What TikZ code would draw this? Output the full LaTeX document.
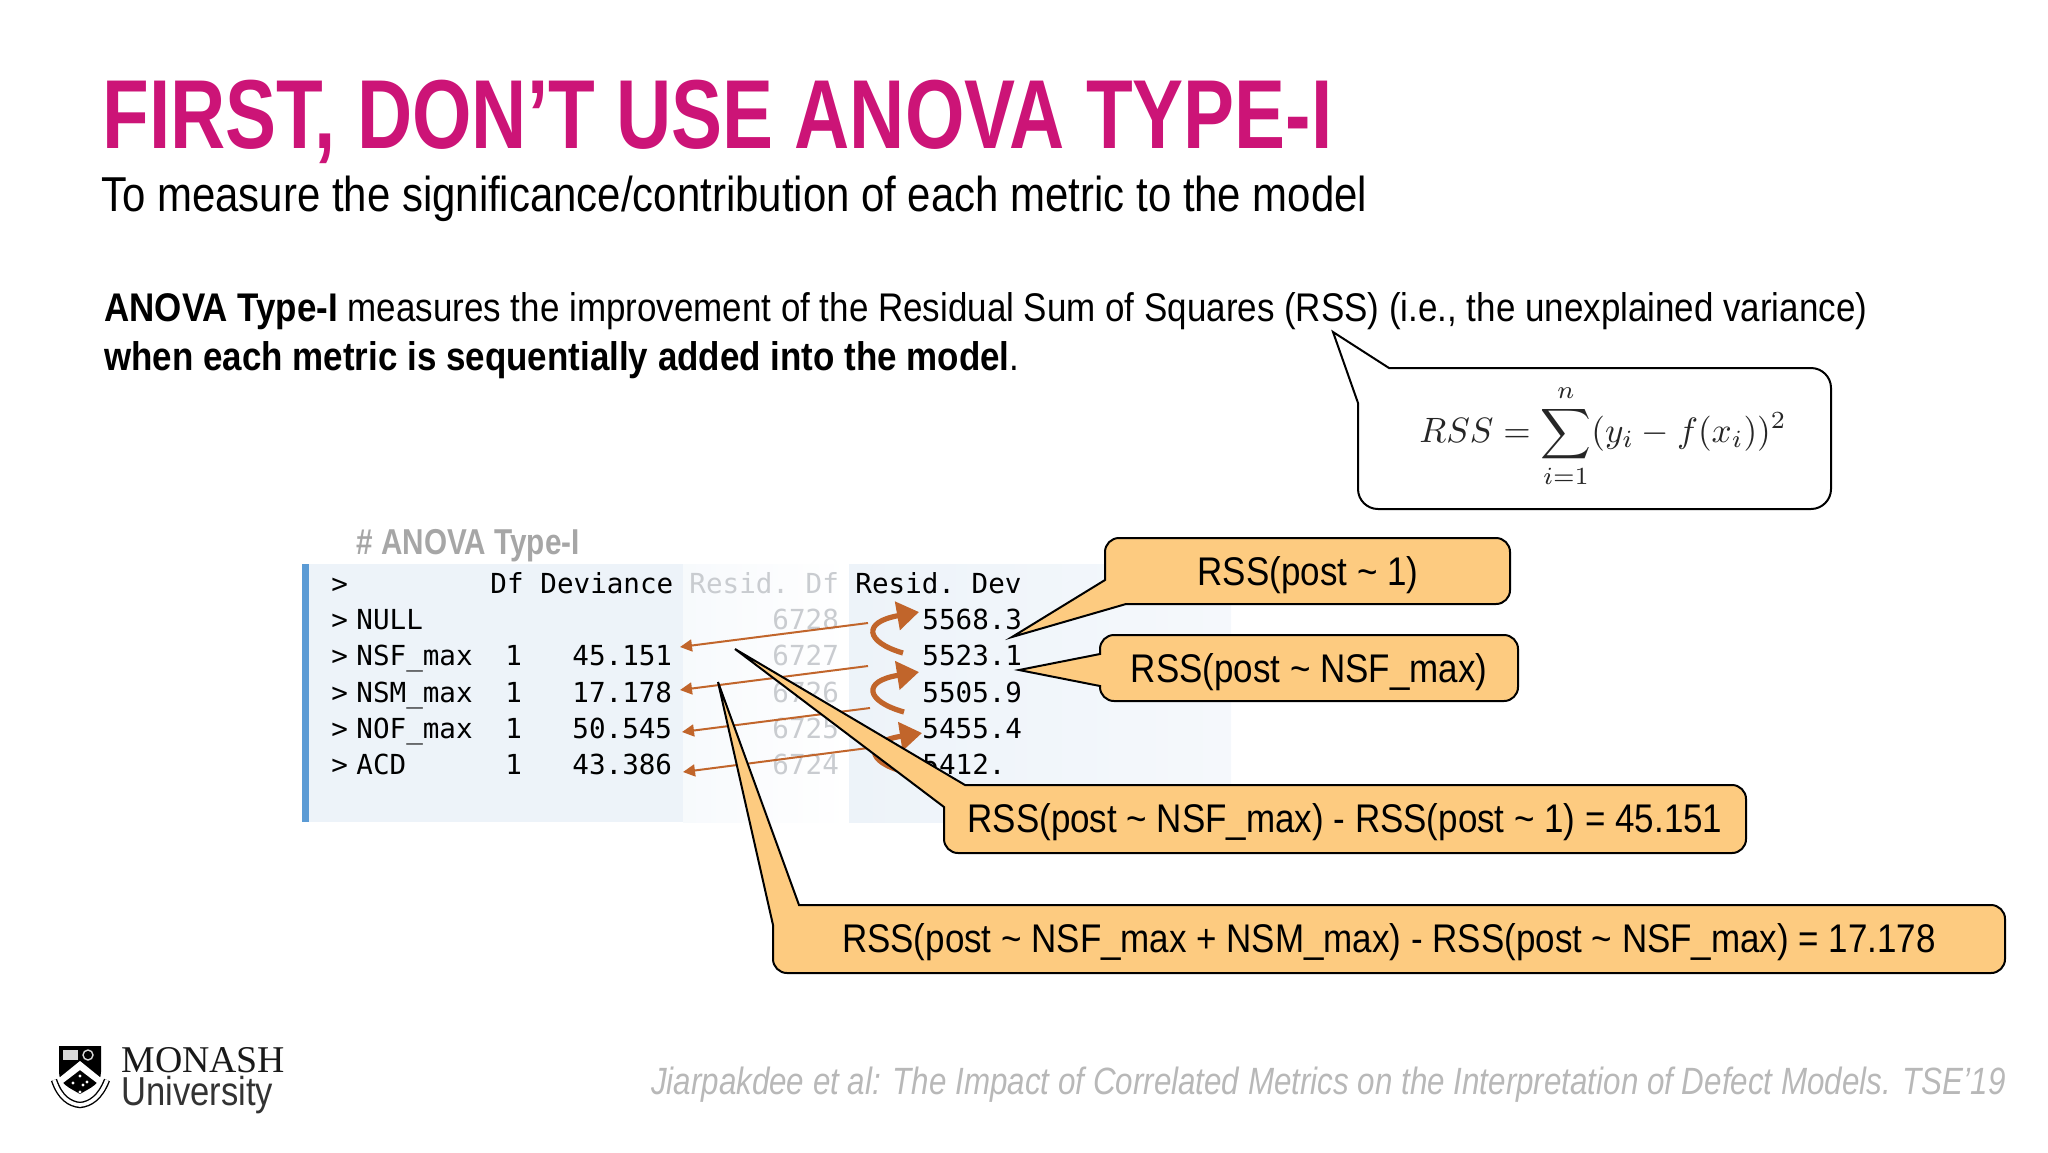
\documentclass[tikz,border=0pt]{standalone}
\usepackage{fontspec}
\usetikzlibrary{arrows.meta}
\setmainfont{Liberation Sans}
\setmonofont{DejaVu Sans Mono}
\newfontfamily\titlefont[FakeStretch=0.78]{Liberation Sans}
\newfontfamily\subfont[FakeStretch=0.856]{Liberation Sans}
\newfontfamily\bodyfont[FakeStretch=0.874]{Liberation Sans}
\newfontfamily\citefont[FakeStretch=0.825]{Liberation Sans}
\newfontfamily\logofont{Liberation Serif}
\definecolor{slidepink}{HTML}{CC1477}
\definecolor{calloutfill}{HTML}{FDCB80}
\definecolor{arrowrust}{HTML}{C1652B}
\definecolor{panelblue}{HTML}{EDF3F9}
\definecolor{barblue}{HTML}{5B9BD5}
\definecolor{fadedgrey}{HTML}{C9CCD0}
\tikzstyle{every node}=[inner sep=0pt, anchor=base west]
\tikzstyle{calloutbox}=[draw=black, fill=calloutfill, line width=1pt, line join=miter]
\tikzstyle{calloutlabel}=[font=\bodyfont\fontsize{20}{24}\selectfont, anchor=base]
\tikzstyle{rowtext}=[font=\ttfamily\fontsize{13.8}{16}\selectfont]
\tikzstyle{rowfaded}=[rowtext, text=fadedgrey]
\tikzstyle{linkarrow}=[arrowrust, line width=1pt, -{Triangle[length=6pt, width=6pt]}]
\tikzstyle{bendarrow}=[arrowrust, line width=2.6pt, -{Triangle[length=11pt, width=14pt]}]

\begin{document}
\begin{tikzpicture}[x=0.5pt, y=-0.5pt]
\useasboundingbox (0,0) rectangle (2048,1152);
% Headings
    \node[text=slidepink, font=\titlefont\bfseries\fontsize{49}{54}\selectfont] (title) at (102,148) {FIRST, DON’T USE ANOVA TYPE-I};
    \node[font=\subfont\fontsize{24.5}{28}\selectfont] (subtitle) at (101,211) {To measure the significance/contribution of each metric to the model};
    \node[font=\bodyfont\fontsize{20}{24}\selectfont] (bodyone) at (104,321) {\textbf{ANOVA Type-I} measures the improvement of the Residual Sum of Squares (RSS) (i.e., the unexplained variance)};
    \node[font=\bodyfont\fontsize{20}{24}\selectfont] (bodytwo) at (104,370) {\textbf{when each metric is sequentially added into the model}.};
% Table panels
    \fill[panelblue] (309,564) rectangle (683,822);
    \fill[left color=panelblue!45, right color=white] (683,564) rectangle (849,822);
    \fill[left color=panelblue, right color=panelblue!55] (849,564) rectangle (1231,822);
    \fill[barblue] (302,564) rectangle (309,822);
    \node[text=black!35, font=\citefont\bfseries\fontsize{18}{22}\selectfont] (tabletitle) at (356,554) {\# ANOVA Type-I};
% Table rows
    \node[rowtext] (promptzero) at (331,593) {>};
    \node[rowtext] (headdf) at (490,593) {Df};
    \node[rowtext] (headdev) at (540,593) {Deviance};
    \node[rowfaded] (headrdf) at (689,593) {Resid. Df};
    \node[rowtext] (headrdev) at (855,593) {Resid. Dev};
    \foreach \row/\ypos/\metric/\dfval/\devval/\rdfval/\rdevval in {
        1/629/NULL///6728/5568.3,
        2/665/NSF\_max/1/45.151/6727/5523.1,
        3/702/NSM\_max/1/17.178/6726/5505.9,
        4/738/NOF\_max/1/50.545/6725/5455.4,
        5/774/ACD/1/43.386/6724/5412.} {
        \node[rowtext] (prompt\row) at (331,\ypos) {>};
        \node[rowtext] (metric\row) at (356,\ypos) {\metric};
        \node[rowtext] (df\row) at (505,\ypos) {\dfval};
        \node[rowtext] (dev\row) at (572,\ypos) {\devval};
        \node[rowfaded] (rdf\row) at (772,\ypos) {\rdfval};
        \node[rowtext] (rdev\row) at (922,\ypos) {\rdevval};
    }
% Links from the differences to the Deviance column
    \coordinate (linkstart1) at (868,623);
    \coordinate (linkend1) at (680,647);
    \coordinate (linkstart2) at (868,666);
    \coordinate (linkend2) at (680,690);
    \coordinate (linkstart3) at (870,708);
    \coordinate (linkend3) at (682,732);
    \coordinate (linkstart4) at (868,748);
    \coordinate (linkend4) at (683,772);
    \foreach \n in {1,2,3,4}
        \draw[linkarrow] (linkstart\n) -- (linkend\n);
% Bent arrows between the residuals
    \draw[bendarrow] (903,653) .. controls (865,642) and (862,622) .. (919,612);
    \draw[bendarrow] (904,712) .. controls (865,701) and (862,681) .. (919,672);
    \draw[bendarrow] (905,772) .. controls (866,762) and (864,742) .. (922,733);
% Callouts
    \draw[calloutbox] (1105,580) [rounded corners=7pt] -- (1105,538) -- (1510,538) -- (1510,604) [sharp corners] -- (1126,604) -- (1012,637) -- cycle;
    \node[calloutlabel] (calloutone) at (1308,585) {RSS(post \char`\~{} 1)};
    \draw[calloutbox] (1100,654) [rounded corners=7pt] -- (1100,635) -- (1518,635) -- (1518,701) -- (1100,701) [sharp corners] -- (1100,686) -- (1019,670) -- cycle;
    \node[calloutlabel] (callouttwo) at (1309,682) {RSS(post \char`\~{} NSF\_max)};
    \draw[calloutbox] (965,785) [rounded corners=7pt] -- (1746,785) -- (1746,853) -- (944,853) [sharp corners] -- (944,807) -- (735,649) -- cycle;
    \node[calloutlabel] (calloutthree) at (1345,832) {RSS(post \char`\~{} NSF\_max) - RSS(post \char`\~{} 1) = 45.151};
    \draw[calloutbox] (799,905) [rounded corners=7pt] -- (2005,905) -- (2005,973) -- (773,973) [sharp corners] -- (773,925) -- (718,682) -- cycle;
    \node[calloutlabel] (calloutfour) at (1389,952) {RSS(post \char`\~{} NSF\_max + NSM\_max) - RSS(post \char`\~{} NSF\_max) = 17.178};
% Formula callout
    \draw[draw=black, fill=white, line width=1pt] (1389,368) [rounded corners=10pt] -- (1831,368) -- (1831,509) -- (1358,509) [sharp corners] -- (1358,403) -- (1333,332) -- cycle;
    \node[anchor=center, scale=1.76, text=black!85] (formula) at (1603,436) {$\displaystyle RSS = \sum_{i=1}^{n} (y_i - f(x_i))^2$};
% Logo
    \fill[black] (59,1046) -- (101,1046) -- (101,1072) .. controls (101,1084) and (90,1088) .. (80,1094) .. controls (70,1088) and (59,1084) .. (59,1072) -- cycle;
    \fill[white] (59,1078) -- (80,1061) -- (101,1078) -- (101,1086) -- (80,1070) -- (59,1086) -- cycle;
    \fill[white!85!black] (63,1050) rectangle (78,1060);
    \draw[white!85!black, line width=0.7pt] (88,1055) circle (5);
    \foreach \dotx/\doty in {73/1083, 80/1076, 87/1082, 80/1092, 83/1085}
        \fill[white] (\dotx,\doty) circle (1.6);
    \draw[black, line width=3.2pt] (54,1080) .. controls (60,1098) and (70,1104) .. (80,1105) .. controls (90,1104) and (100,1098) .. (107,1080);
    \draw[white, line width=1.8pt] (54,1080) .. controls (60,1098) and (70,1104) .. (80,1105) .. controls (90,1104) and (100,1098) .. (107,1080);
    \node[font=\logofont\fontsize{18.9}{22}\selectfont, text=black!90] (logomonash) at (121,1072) {MONASH};
    \node[font=\subfont\fontsize{20.2}{24}\selectfont, text=black!80] (logouni) at (121,1105) {University};
% Reference
    \node[anchor=base east, text=black!28, font=\citefont\itshape\fontsize{19}{23}\selectfont] (citation) at (2006,1094) {Jiarpakdee et al: The Impact of Correlated Metrics on the Interpretation of Defect Models. TSE’19};
\end{tikzpicture}
\end{document}
